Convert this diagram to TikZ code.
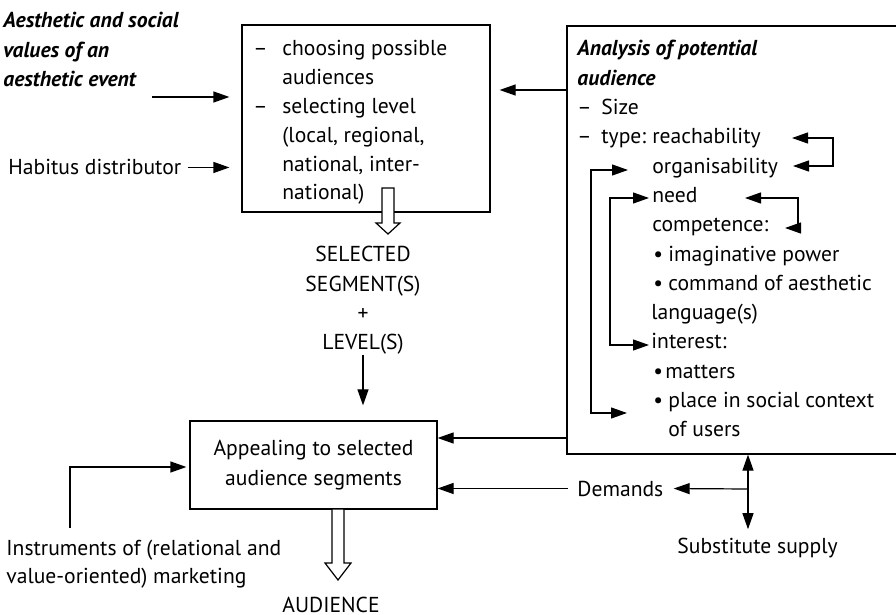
\documentclass[tikz,border=0pt]{standalone}
\usepackage{fontspec}
\setmainfont{PT Sans}
\usetikzlibrary{arrows.meta}

\begin{document}
\begin{tikzpicture}[x=0.5pt,y=-0.5pt,font=\fontsize{10.8}{14.65}\selectfont,
  box/.style={draw,line width=0.6pt,inner sep=0pt},
  txt/.style={anchor=base west,inner sep=0pt},
  ctr/.style={anchor=base,inner sep=0pt},
  bi/.style={txt,font=\fontsize{10.8}{14.65}\selectfont\bfseries\itshape},
  a/.style={-{Triangle[length=8pt,width=5.5pt]},line width=0.6pt},
  aa/.style={{Triangle[length=8pt,width=5.5pt]}-{Triangle[length=8pt,width=5.5pt]},line width=0.6pt},
  hol/.style={draw,fill=white,line width=0.6pt}]
\useasboundingbox (0,0) rectangle (896,615);
\clip (0,0) rectangle (896,615);
% boxes
\node[box,minimum width=124pt,minimum height=93.5pt] (sel) at (366,118.5) {};
\node[box,minimum width=166.5pt,minimum height=214pt] (ana) at (733.5,240) {};
\node[box,minimum width=123.5pt,minimum height=44pt,align=center] (app) at (313.5,465) {Appealing to selected\\audience segments};
% inputs on the left
\node[bi] (aes1) at (3,28) {Aesthetic and social};
\node[bi] (aes2) at (3,57.3) {values of an};
\node[bi] (aes3) at (3,86.6) {aesthetic event};
\node[txt] (hab) at (8,175) {Habitus distributor};
\coordinate (ae) at (152,97);
\draw[a,shorten >=6pt] (ae) -- (ae -| sel.west);
\draw[a,shorten >=6pt] ([xshift=3pt]hab.east) -- (hab.east -| sel.west);
% selection box
\foreach \d/\s [count=\i from 0] in {–/choosing possible,/audiences,–/selecting level,/{(local, regional,},/{national, inter-},/{national)}}{
  \node[txt] (sd\i) at (253,56+28.8*\i) {\d};
  \node[txt] (s\i) at (282,56+28.8*\i) {\s};}
\coordinate (h1) at (388,188);
\draw[hol] (h1) ++(-6,0) -- ++(12,0) -- ++(0,35) -- ++(6,0) -- ++(-12,11) -- ++(-12,-11) -- ++(6,0) -- cycle;
\node[ctr] (seg1) at (363,262) {SELECTED};
\node[ctr] (seg2) at (363,291.3) {SEGMENT(S)};
\node[ctr] (plus) at (363,320.6) {+};
\node[ctr] (lev) at (363,350) {LEVEL(S)};
\draw[a,shorten >=7.5pt] (lev.south) -- (lev.south |- app.north);
% analysis box
\node[bi] (an1) at (577,56) {Analysis of potential};
\node[bi] (an2) at (577,85.3) {audience};
\node[txt] (d1) at (577,114.6) {–}; \node[txt] (size) at (601,114.6) {Size};
\node[txt] (d2) at (577,143.9) {–}; \node[txt] (type) at (601,143.9) {type:};
\node[txt] (reach) at (652,143.9) {reachability};
\node[txt] (org) at (652,173.2) {organisability};
\node[txt] (need) at (652,202.5) {need};
\node[txt] (comp) at (652,231.8) {competence:};
\node[txt] (b1) at (653,261.1) {•}; \node[txt] (imag) at (668,261.1) {imaginative power};
\node[txt] (b2) at (653,290.4) {•}; \node[txt] (cmd) at (668,290.4) {command of aesthetic};
\node[txt] (lang) at (651,319.7) {language(s)};
\node[txt] (int) at (651,349) {interest:};
\node[txt] (b3) at (653,378.3) {•}; \node[txt] (mat) at (665,378.3) {matters};
\node[txt] (b4) at (653,407.6) {•}; \node[txt] (place) at (668,407.6) {place in social context};
\node[txt] (users) at (668,436.9) {of users};
\coordinate (r1) at (792,138); \coordinate (r2) at (793,166); \coordinate (k1) at (833,166);
\draw[aa] (r1) -| (k1) -- (r2);
\coordinate (n1) at (745,198); \coordinate (n2) at (785,228); \coordinate (k2) at (798,228);
\draw[aa] (n1) -| (k2) -- (n2);
\coordinate (o1) at (628,170); \coordinate (o2) at (627,413); \coordinate (k3) at (591,413);
\draw[aa] (o1) -| (k3) -- (o2);
\coordinate (i1) at (649,198); \coordinate (i2) at (649,345); \coordinate (k4) at (610,345);
\draw[aa] (i1) -| (k4) -- (i2);
\coordinate (f1) at (567,90); \coordinate (f2) at (567,438);
\draw[a,shorten >=4.5pt] (f1) -- (f1 -| sel.east);
\draw[a] (f2) -- (f2 -| app.east);
% demands and supply
\node[txt] (dem) at (577,496) {Demands};
\draw[a] ([xshift=-4.5pt]dem.west) -- (dem.west -| app.east);
\coordinate (sv) at (748,489);
\draw[a,shorten >=5pt] (sv) -- (dem.east);
\node[txt] (sub) at (677,553) {Substitute supply};
\draw[aa] (sv |- ana.south) -- ([yshift=4pt]sv |- sub.north);
% marketing and audience
\node[txt] (ins1) at (6,555) {Instruments of (relational and};
\node[txt] (ins2) at (6,583) {value-oriented) marketing};
\coordinate (im) at (70,467);
\draw[a,shorten >=1.5pt] ([yshift=5.5pt]ins1.north -| im) -- (im) -- (im -| app.west);
\coordinate (h2) at (338,509);
\draw[hol] (h2) ++(-6,0) -- ++(12,0) -- ++(0,54) -- ++(7,0) -- ++(-13,17) -- ++(-13,-17) -- ++(7,0) -- cycle;
\node[ctr] (aud) at (331,612) {AUDIENCE};
\end{tikzpicture}
\end{document}
